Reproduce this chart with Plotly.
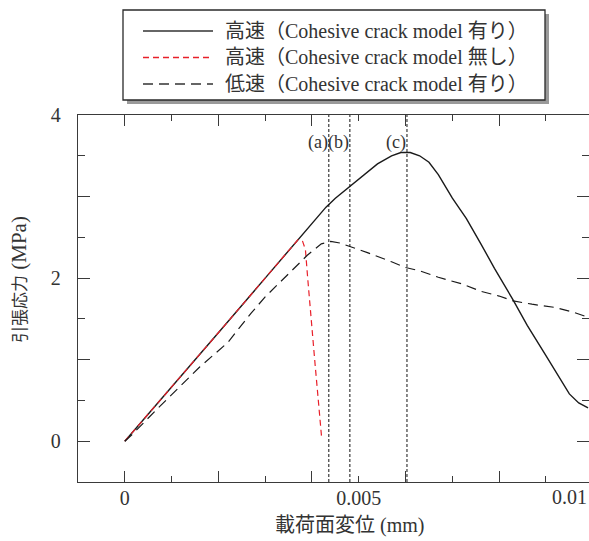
import plotly.graph_objects as go

# --- data: tensile stress (MPa) vs. loading-face displacement (mm) ---
fast_crack_x = [0, 0.0005, 0.001, 0.002, 0.003, 0.004, 0.0043, 0.0045, 0.0048,
                0.0051, 0.0054, 0.0057, 0.0059, 0.0061, 0.0063, 0.0065, 0.0067,
                0.0070, 0.0073, 0.0076, 0.0079, 0.0083, 0.0086, 0.0090, 0.0093,
                0.0095, 0.0097, 0.0099]
fast_crack_y = [0, 0.33, 0.66, 1.33, 2.0, 2.67, 2.87, 2.98, 3.12,
                3.27, 3.40, 3.50, 3.54, 3.54, 3.50, 3.42, 3.27,
                2.98, 2.73, 2.43, 2.12, 1.73, 1.42, 1.05, 0.77,
                0.58, 0.47, 0.41]

fast_nocrack_x = [0, 0.001, 0.002, 0.003, 0.0035, 0.0037, 0.0038, 0.00386,
                  0.00391, 0.00396, 0.00402, 0.00407, 0.00412, 0.00417, 0.00421]
fast_nocrack_y = [0, 0.66, 1.33, 2.0, 2.33, 2.47, 2.45, 2.35,
                  1.99, 1.62, 1.25, 0.92, 0.60, 0.30, 0.02]

slow_crack_x = [0, 0.00017, 0.0007, 0.0012, 0.0016, 0.0022, 0.0027, 0.003,
                0.0035, 0.0039, 0.0042, 0.0044, 0.0046, 0.0048, 0.0052, 0.0057,
                0.006, 0.0063, 0.0067, 0.0072, 0.0076, 0.008, 0.0083, 0.0087,
                0.0092, 0.0096, 0.0099]
slow_crack_y = [0, 0.09, 0.40, 0.69, 0.91, 1.21, 1.57, 1.77,
                2.05, 2.28, 2.42, 2.45, 2.43, 2.39, 2.31, 2.20,
                2.13, 2.09, 2.01, 1.93, 1.84, 1.78, 1.72, 1.68,
                1.64, 1.58, 1.52]

series_names = ["高速（Cohesive crack model 有り）",
                "高速（Cohesive crack model 無し）",
                "低速（Cohesive crack model 有り）"]

marker_x = [0.00436, 0.00481, 0.00603]
marker_labels = ["(a)", "(b)", "(c)"]

x_tick_vals = [0, 0.005]
x_tick_text = ["0", "0.005"]
y_tick_vals = [0, 1, 2, 3, 4]
y_tick_text = ["0", "", "2", "", "4"]

x_range = [-0.001, 0.00992]
y_range = [-0.5, 4.0]

SERIF = "Liberation Serif, Noto Sans CJK JP, serif"
INK = "#333333"

styles = [
    dict(color="#1a1a1a", width=1.4, dash="solid"),
    dict(color="#e8202a", width=1.2, dash="6px,4px"),
    dict(color="#1a1a1a", width=1.2, dash="10px,6px"),
]

fig = go.Figure()
for xs, ys, name, st in zip([fast_crack_x, fast_nocrack_x, slow_crack_x],
                            [fast_crack_y, fast_nocrack_y, slow_crack_y],
                            series_names, styles):
    fig.add_trace(go.Scatter(x=xs, y=ys, mode="lines", name=name,
                             line=dict(color=st["color"], width=st["width"],
                                       dash=st["dash"]),
                             showlegend=False))

# empty trace that carries the labelled bottom axis
fig.add_trace(go.Scatter(x=[], y=[], xaxis="x2", yaxis="y", showlegend=False,
                         hoverinfo="skip"))

# vertical markers (a), (b), (c)
for xv, lab in zip(marker_x, marker_labels):
    fig.add_shape(type="line", xref="x", yref="paper", x0=xv, x1=xv, y0=0, y1=1,
                  line=dict(color="#111111", width=1, dash="3px,2px"))
    fig.add_annotation(x=xv, y=0.924, xref="x", yref="paper", text=lab,
                       showarrow=False, xanchor="right", yanchor="middle",
                       xshift=1, font=dict(family=SERIF, size=18, color=INK))

# legend box with drop shadow
W, H = 589, 541
ML, MR, MT, MB = 78, 0, 115, 59
pw, ph = W - ML - MR, H - MT - MB


def px(xp):
    return (xp - ML) / pw


def py(yp):
    return (H - MB - yp) / ph


fig.add_shape(type="rect", xref="paper", yref="paper",
              x0=px(127), x1=px(549), y0=py(104), y1=py(14),
              line=dict(width=0), fillcolor="#9a9a9a", layer="below")
fig.add_shape(type="rect", xref="paper", yref="paper",
              x0=px(123), x1=px(545), y0=py(100), y1=py(10),
              line=dict(color="#2a2a2a", width=1.3), fillcolor="white")
for i, (name, st) in enumerate(zip(series_names, styles)):
    yrow = 31 + i * 26.5
    fig.add_shape(type="line", xref="paper", yref="paper",
                  x0=px(143), x1=px(213), y0=py(yrow), y1=py(yrow),
                  line=dict(color=st["color"] if i == 1 else "#333333",
                            width=1.4, dash=st["dash"]))
    fig.add_annotation(x=px(223), y=py(yrow), xref="paper", yref="paper",
                       text=name, showarrow=False, xanchor="left",
                       yanchor="middle",
                       font=dict(family=SERIF, size=20, color=INK))

# axis titles
fig.add_annotation(x=px(349), y=py(525), xref="paper", yref="paper",
                   text="載荷面変位 (mm)", showarrow=False,
                   yanchor="middle",
                   font=dict(family=SERIF, size=20, color=INK))
fig.add_annotation(x=px(18), y=py(280), xref="paper", yref="paper",
                   text='<span style="font-size:17px">引張応力</span> (MPa)',
                   textangle=-90, showarrow=False, xshift=-13,
                   font=dict(family=SERIF, size=21, color=INK))
# last x tick label sits at the right edge of the frame
fig.add_annotation(x=1, y=py(497), xref="paper", yref="paper", text="0.01",
                   showarrow=False, xanchor="right", yanchor="middle",
                   font=dict(family=SERIF, size=20, color=INK))

axis_common = dict(showline=True, linecolor="#3a3a3a", linewidth=1.3,
                   mirror="ticks", ticks="inside", tickcolor="#3a3a3a",
                   tickwidth=1.3, showgrid=False, zeroline=False)

fig.update_layout(
    width=W, height=H,
    margin=dict(l=ML, r=MR, t=MT, b=MB, pad=0),
    paper_bgcolor="white", plot_bgcolor="white",
    font=dict(family=SERIF, size=20, color=INK),
    xaxis=dict(range=x_range, tickvals=[0, 0.002, 0.004, 0.006, 0.008],
               showticklabels=False, ticklen=11,
               minor=dict(dtick=0.001, tick0=0, ticklen=6, ticks="inside",
                          tickcolor="#3a3a3a", tickwidth=1.3),
               **axis_common),
    xaxis2=dict(range=x_range, overlaying="x", anchor="y", side="bottom",
                tickvals=x_tick_vals, ticktext=x_tick_text,
                ticks="", showline=False, showgrid=False, zeroline=False,
                ticklabelstandoff=2,
                tickfont=dict(family=SERIF, size=20, color=INK)),
    yaxis=dict(range=y_range, tickvals=y_tick_vals, ticktext=y_tick_text,
               ticklen=12, ticklabelstandoff=12,
               tickfont=dict(family=SERIF, size=20, color=INK),
               minor=dict(dtick=0.5, tick0=0, ticklen=7, ticks="inside",
                          tickcolor="#3a3a3a", tickwidth=1.3),
               **axis_common),
    showlegend=False,
)

fig.write_html("out.html")
